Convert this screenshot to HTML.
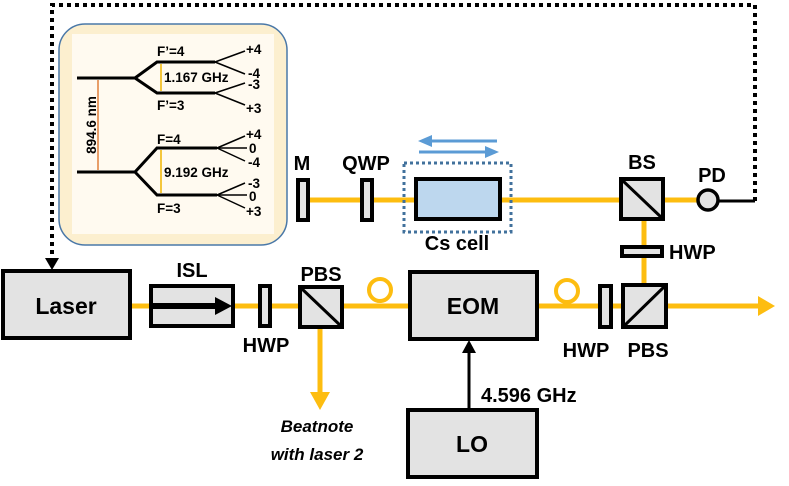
<!DOCTYPE html>
<html><head><meta charset="utf-8"><style>
html,body{margin:0;padding:0;background:#fff;}
svg{display:block;}
text{font-family:"Liberation Sans",sans-serif;font-weight:bold;fill:#000;}
</style></head><body>
<svg width="789" height="486" viewBox="0 0 789 486" xmlns="http://www.w3.org/2000/svg">
<!-- feedback dotted -->
<polyline points="755,201 755,5 52,5 52,258" fill="none" stroke="#000" stroke-width="4" stroke-dasharray="4,4"/>
<line x1="717" y1="201" x2="755" y2="201" stroke="#000" stroke-width="3"/>
<path d="M45,258 L59,258 L52,270 Z" fill="#000"/>
<!-- inset -->
<rect x="59" y="24" width="228" height="221" rx="26" fill="#fcefcf" stroke="#4a78a8" stroke-width="1.5"/>
<rect x="72" y="34" width="202" height="200" fill="#fffaf0"/>
<g stroke="#000" stroke-width="3" fill="none">
<line x1="77" y1="78" x2="135" y2="78"/>
<polyline points="135,78 157,62 215,62"/><polyline points="135,78 157,93 215,93"/>
<line x1="77" y1="172" x2="135" y2="172"/>
<polyline points="135,172 157,148 217,148"/><polyline points="135,172 157,195 217,195"/>
</g>
<g stroke="#000" stroke-width="1.5">
<line x1="215" y1="62" x2="245" y2="51"/><line x1="215" y1="62" x2="245" y2="74"/>
<line x1="215" y1="93" x2="245" y2="83"/><line x1="215" y1="93" x2="245" y2="105"/>
<line x1="217" y1="148" x2="245" y2="136"/><line x1="217" y1="148" x2="247" y2="148"/><line x1="217" y1="148" x2="245" y2="161"/>
<line x1="217" y1="195" x2="245" y2="183"/><line x1="217" y1="195" x2="247" y2="195"/><line x1="217" y1="195" x2="245" y2="208"/>
</g>
<line x1="98" y1="80" x2="98" y2="170" stroke="#e0803a" stroke-width="1.5"/>
<line x1="161" y1="64" x2="161" y2="91" stroke="#f0b400" stroke-width="1.5"/>
<line x1="161" y1="150" x2="161" y2="193" stroke="#f0b400" stroke-width="1.5"/>
<g font-size="13.5">
<text x="157" y="56">F’=4</text><text x="157" y="110">F’=3</text>
<text x="164" y="82">1.167 GHz</text>
<text x="157" y="144">F=4</text><text x="157" y="213">F=3</text>
<text x="164" y="177">9.192 GHz</text>
<text x="96" y="125" transform="rotate(-90 96 125)" text-anchor="middle">894.6 nm</text>
<text x="246" y="54">+4</text><text x="248" y="78">-4</text><text x="248" y="89">-3</text><text x="246" y="113">+3</text>
<text x="246" y="139">+4</text><text x="249" y="153">0</text><text x="248" y="167">-4</text>
<text x="248" y="188">-3</text><text x="249" y="201">0</text><text x="246" y="216">+3</text>
</g>
<!-- beams -->
<g stroke="#fdbd10" stroke-width="5" fill="none">
<line x1="131" y1="306" x2="760" y2="306"/>
<line x1="320" y1="306" x2="320" y2="395"/>
<line x1="644" y1="200" x2="644" y2="306"/>
<line x1="302" y1="200" x2="698" y2="200"/>
<circle cx="380" cy="290" r="11" stroke-width="4"/>
<circle cx="567" cy="291" r="11" stroke-width="4"/>
</g>
<path d="M310,392 L330,392 L320,410 Z" fill="#fdbd10"/>
<path d="M758,296 L758,316 L775,306 Z" fill="#fdbd10"/>
<!-- components -->
<g stroke="#000" stroke-width="4" fill="#e3e3e3">
<rect x="3" y="271" width="127" height="67"/>
<rect x="151" y="286" width="82" height="40"/>
<rect x="260" y="286" width="10" height="40"/>
<rect x="300" y="287" width="42" height="40"/>
<rect x="410" y="272" width="127" height="67"/>
<rect x="600" y="286" width="11" height="41"/>
<rect x="623" y="285" width="43" height="42"/>
<rect x="622" y="247" width="40" height="9"/>
<rect x="621" y="179" width="42" height="40"/>
<rect x="298" y="180" width="10" height="40"/>
<rect x="362" y="180" width="10" height="40"/>
<rect x="416" y="179" width="84" height="40" fill="#bdd7ee"/>
<rect x="408" y="410" width="129" height="67"/>
</g>
<g stroke="#000" stroke-width="3">
<line x1="300" y1="287" x2="342" y2="327"/>
<line x1="623" y1="327" x2="666" y2="285"/>
<line x1="621" y1="179" x2="663" y2="219"/>
</g>
<line x1="151" y1="306" x2="218" y2="306" stroke="#000" stroke-width="6"/>
<path d="M215,297 L232,306 L215,315 Z" fill="#000"/>
<rect x="404" y="163" width="107" height="69" fill="none" stroke="#41719c" stroke-width="3" stroke-dasharray="3,3"/>
<circle cx="708" cy="200" r="10" fill="#e3e3e3" stroke="#000" stroke-width="3.5"/>
<!-- blue arrows -->
<g stroke="#5b9bd5" stroke-width="3">
<line x1="428" y1="141" x2="497" y2="141"/><line x1="419" y1="152" x2="488" y2="152"/>
</g>
<path d="M418,141 L432,135 L432,147 Z" fill="#5b9bd5"/>
<path d="M499,152 L485,146 L485,158 Z" fill="#5b9bd5"/>
<!-- LO arrow -->
<line x1="469" y1="410" x2="469" y2="352" stroke="#000" stroke-width="3"/>
<path d="M462,353 L476,353 L469,340 Z" fill="#000"/>
<!-- labels -->
<g font-size="20">
<text x="66" y="314" text-anchor="middle" font-size="23">Laser</text>
<text x="473" y="314" text-anchor="middle" font-size="23">EOM</text>
<text x="472" y="452" text-anchor="middle" font-size="23">LO</text>
<text x="192" y="277" text-anchor="middle">ISL</text>
<text x="266" y="352" text-anchor="middle">HWP</text>
<text x="321" y="281" text-anchor="middle">PBS</text>
<text x="586" y="357" text-anchor="middle">HWP</text>
<text x="648" y="357" text-anchor="middle">PBS</text>
<text x="669" y="259">HWP</text>
<text x="642" y="169" text-anchor="middle">BS</text>
<text x="712" y="182" text-anchor="middle">PD</text>
<text x="302" y="170" text-anchor="middle">M</text>
<text x="366" y="170" text-anchor="middle">QWP</text>
<text x="457" y="250" text-anchor="middle">Cs cell</text>
<text x="481" y="402">4.596 GHz</text>
<text x="317" y="432" text-anchor="middle" font-style="italic" font-size="17">Beatnote</text>
<text x="317" y="460" text-anchor="middle" font-style="italic" font-size="17">with laser 2</text>
</g>
</svg>
</body></html>
